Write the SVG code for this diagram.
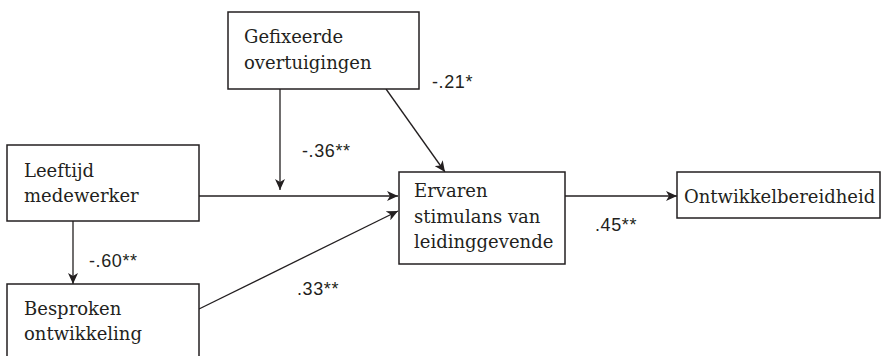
<svg xmlns="http://www.w3.org/2000/svg" width="881" height="356" viewBox="0 0 881 356">
<style>
.box{fill:#fff;stroke:#231f20;stroke-width:1.5}
.t{font-family:"DejaVu Serif","Liberation Serif",serif;font-size:18px;fill:#231f20}
.l{font-family:"Liberation Sans",Arial,sans-serif;font-size:18px;letter-spacing:0.6px;fill:#231f20}
.c{stroke:#231f20;stroke-width:1.3;fill:none}
</style>
<defs>
<marker id="ah" markerWidth="12" markerHeight="10" refX="11" refY="5" orient="auto" markerUnits="userSpaceOnUse">
<path d="M0,0 L11,5 L0,10 L3,5 Z" fill="#231f20"/>
</marker>
</defs>
<rect width="881" height="356" fill="#fff"/>
<g id="connectors">
<line class="c" x1="73" y1="221" x2="73" y2="284" marker-end="url(#ah)"/>
<line class="c" x1="280" y1="89" x2="280" y2="190" marker-end="url(#ah)"/>
<line class="c" x1="386" y1="89" x2="445" y2="172" marker-end="url(#ah)"/>
<line class="c" x1="199" y1="196" x2="398" y2="196" marker-end="url(#ah)"/>
<line class="c" x1="199" y1="309" x2="398" y2="211" marker-end="url(#ah)"/>
<line class="c" x1="565" y1="196" x2="677" y2="196" marker-end="url(#ah)"/>
<text class="l" x="89" y="267">-.60**</text>
<text class="l" x="302" y="157">-.36**</text>
<text class="l" x="432" y="88">-.21*</text>
<text class="l" x="297" y="295">.33**</text>
<text class="l" x="595" y="231">.45**</text>
</g>
<g id="leeftijd">
<rect class="box" x="7" y="145" width="192" height="76"/>
<text class="t" x="24" y="177">Leeftijd</text>
<text class="t" x="24" y="202">medewerker</text>
</g>
<g id="besproken">
<rect class="box" x="7" y="284" width="192" height="80"/>
<text class="t" x="24" y="315">Besproken</text>
<text class="t" x="24" y="340">ontwikkeling</text>
</g>
<g id="gefixeerde">
<rect class="box" x="228" y="12" width="191" height="77"/>
<text class="t" x="244" y="43">Gefixeerde</text>
<text class="t" x="244" y="69">overtuigingen</text>
</g>
<g id="ervaren">
<rect class="box" x="399" y="172" width="166" height="92"/>
<text class="t" x="414" y="197">Ervaren</text>
<text class="t" x="414" y="223">stimulans van</text>
<text class="t" x="414" y="248">leidinggevende</text>
</g>
<g id="ontwikkel">
<rect class="box" x="677" y="172" width="203" height="46"/>
<text class="t" x="684" y="203">Ontwikkelbereidheid</text>
</g>
</svg>
